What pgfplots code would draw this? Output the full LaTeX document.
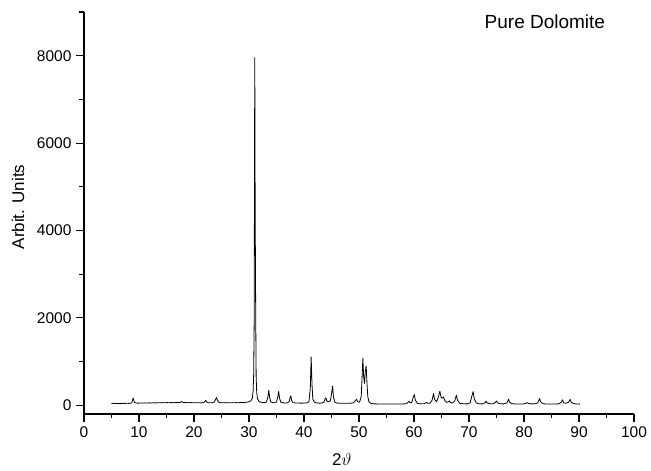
\documentclass[border=0pt]{standalone}
\usepackage{pgfplots}
\pgfplotsset{compat=1.18}
\usepackage{fontspec}
\setmainfont{Liberation Sans}
\begin{document}
\begin{tikzpicture}
\begin{axis}[
  scale only axis,
  width=550pt, height=402pt,
  xmin=0, xmax=100, ymin=-200, ymax=9000,
  axis lines=left,
  axis line style={-, line width=1.2pt},
  tick align=outside,
  tick style={black, line width=1.1pt},
  major tick length=8pt,
  minor tick length=4.5pt,
  xtick={0,10,...,100},
  minor xtick={5,15,...,95},
  ytick={0,2000,4000,6000,8000},
  minor ytick={1000,3000,5000,7000,9000},
  scaled y ticks=false,
  /pgf/number format/assume math mode=true,
  /pgf/number format/1000 sep={},
  ticklabel style={font=\fontsize{15.5}{18}\selectfont},
  xticklabel style={yshift=-1pt},
  yticklabel style={xshift=-1pt},
  xlabel={2$\vartheta$},
  ylabel={Arbit. Units},
  label style={font=\fontsize{17}{20}\selectfont},
  xlabel style={at={(rel axis cs:0.469,-0.114)}, anchor=center},
  ylabel style={at={(rel axis cs:-0.12,0.515)}, anchor=center},
  clip=false,
]
\addplot[black, line width=0.8pt, line join=round] coordinates {
(5.0,40) (5.4,45) (5.8,38) (6.2,42) (6.6,36) (7.0,44) (7.4,40) (7.8,46) (8.2,42) (8.5,48)
(8.7,60) (8.85,130) (8.95,165) (9.05,110) (9.2,65) (9.5,50) (9.9,48) (10.3,52) (10.7,49)
(11.1,54) (11.5,50) (11.9,55) (12.3,52) (12.7,57) (13.1,53) (13.5,58) (13.9,55) (14.3,60)
(14.7,56) (15.1,61) (15.5,57) (15.9,62) (16.3,58) (16.7,63) (17.1,60) (17.5,66) (17.75,85)
(17.9,70) (18.2,60) (18.6,63) (19.0,58) (19.4,61) (19.8,56) (20.2,59) (20.6,55) (21.0,57)
(21.4,54) (21.8,60) (22.0,95) (22.15,110) (22.3,75) (22.6,58) (23.0,55) (23.4,60) (23.7,75)
(23.95,140) (24.1,175) (24.25,120) (24.5,70) (24.9,58) (25.3,55) (25.7,60) (26.1,56)
(26.5,58) (26.9,55) (27.3,57) (27.7,60) (28.1,58) (28.5,62) (28.9,60) (29.3,65) (29.7,72)
(30.1,85) (30.4,110) (30.6,160) (30.75,330) (30.85,700) (30.95,2000) (31.0,5400)
(31.05,7960) (31.1,5450) (31.13,4280) (31.17,3250) (31.22,2100) (31.3,650) (31.4,300)
(31.55,150) (31.8,90) (32.1,70) (32.5,62) (32.9,60) (33.2,75) (33.45,200) (33.6,345)
(33.75,180) (33.95,80) (34.3,60) (34.7,58) (35.0,75) (35.25,200) (35.4,320) (35.55,160)
(35.8,70) (36.2,55) (36.6,52) (37.0,55) (37.3,80) (37.5,180) (37.6,215) (37.75,110)
(38.0,60) (38.5,52) (39.0,50) (39.5,48) (40.0,50) (40.5,55) (40.9,80) (41.15,400)
(41.3,1105) (41.45,500) (41.6,140) (41.9,70) (42.3,52) (42.8,48) (43.2,50) (43.6,65)
(43.85,150) (44.0,167) (44.15,100) (44.4,80) (44.8,100) (45.05,300) (45.2,440) (45.35,200)
(45.6,70) (46.0,50) (46.5,46) (47.0,45) (47.5,46) (48.0,44) (48.5,47) (49.0,55) (49.35,110)
(49.55,137) (49.75,80) (50.1,70) (50.4,200) (50.55,600) (50.7,1070) (50.85,650) (51.0,500)
(51.15,780) (51.3,900) (51.45,500) (51.6,200) (51.8,80) (52.2,40) (52.8,32) (53.5,30)
(54.2,28) (55.0,30) (55.8,27) (56.5,29) (57.2,27) (58.0,30) (58.6,34) (58.9,65) (59.1,91)
(59.3,55) (59.6,65) (59.85,180) (60.05,244) (60.25,120) (60.6,45) (61.2,32) (61.8,35)
(62.1,50) (62.3,65) (62.5,45) (62.9,45) (63.3,120) (63.55,267) (63.75,130) (64.1,80)
(64.45,200) (64.7,320) (64.9,200) (65.1,160) (65.35,190) (65.6,110) (65.9,65) (66.2,75)
(66.4,100) (66.6,65) (67.0,50) (67.4,100) (67.7,229) (67.9,120) (68.3,45) (69.0,33)
(69.7,31) (70.2,55) (70.5,200) (70.75,312) (70.95,150) (71.3,55) (71.8,33) (72.4,31)
(72.9,55) (73.1,91) (73.3,50) (73.8,33) (74.4,35) (74.8,65) (75.0,98) (75.2,55) (75.7,33)
(76.3,31) (76.9,55) (77.2,137) (77.4,65) (77.9,33) (78.5,29) (79.2,28) (79.9,31) (80.4,45)
(80.6,60) (80.8,40) (81.4,31) (82.0,33) (82.5,55) (82.85,152) (83.05,75) (83.5,33)
(84.2,28) (85.0,27) (85.7,29) (86.4,33) (86.8,75) (87.0,125) (87.2,55) (87.6,45) (88.1,70)
(88.4,135) (88.6,65) (89.0,40) (89.5,30) (90.2,25)
};
\node[font=\fontsize{19}{22}\selectfont] at (rel axis cs:0.838,0.975) {Pure Dolomite};
\end{axis}
\pgfresetboundingbox
\path[use as bounding box] ([xshift=-84pt,yshift=-57pt]current axis.south west) rectangle ([xshift=17pt,yshift=12pt]current axis.north east);
\end{tikzpicture}
\end{document}
